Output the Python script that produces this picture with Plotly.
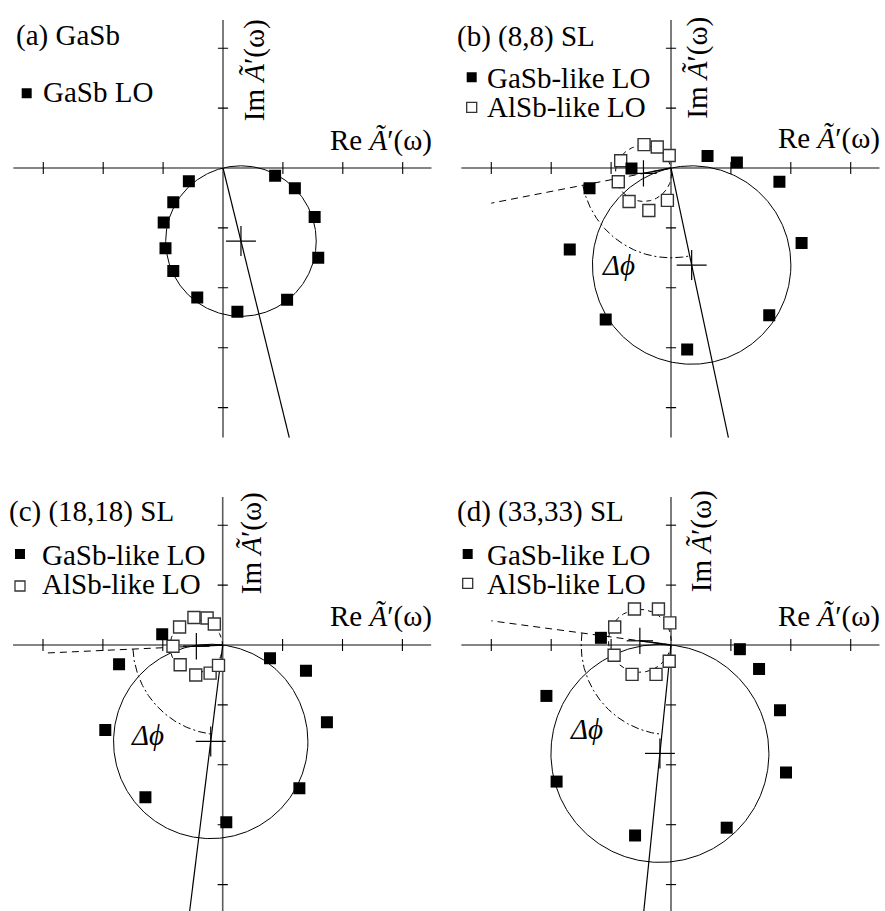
import numpy as np
import plotly.graph_objects as go

W, H = 885, 911
S = 59.9  # pixels per unit, same on every panel

# ---------------------------------------------------------------- data
panel_tags = ["(a) GaSb", "(b) (8,8) SL", "(c) (18,18) SL", "(d) (33,33) SL"]
legend_gasb = ["GaSb LO", "GaSb-like LO", "GaSb-like LO", "GaSb-like LO"]
legend_alsb = [None, "AlSb-like LO", "AlSb-like LO", "AlSb-like LO"]
x_ticks = [-3, -2, -1, 1, 2, 3]
y_ticks = [-4, -3, -2, -1, 1, 2]

# (a) GaSb
gasb_re_a = [-0.57, -0.83, -0.99, -0.96, -0.83, -0.43, 0.24, 1.07, 1.59, 1.53, 1.20, 0.87]
gasb_im_a = [-0.22, -0.57, -0.91, -1.34, -1.72, -2.16, -2.40, -2.20, -1.50, -0.82, -0.34, -0.13]
gasb_center_a = (0.30, -1.22)

# (b) (8,8) SL
gasb_re_b = [-0.66, -1.36, -1.69, -1.09, 0.27, 1.64, 2.18, 1.81, 1.10, 0.61]
gasb_im_b = [-0.01, -0.34, -1.36, -2.53, -3.03, -2.46, -1.25, -0.23, 0.09, 0.20]
alsb_re_b = [-0.03, -0.23, -0.45, -0.84, -0.88, -0.70, -0.37, -0.06]
alsb_im_b = [0.21, 0.35, 0.39, 0.12, -0.23, -0.56, -0.71, -0.54]
gasb_center_b = (0.345, -1.62)
alsb_center_b = (-0.46, -0.09)

# (c) (18,18) SL
gasb_re_c = [-1.01, -1.73, -1.96, -1.29, 0.06, 1.28, 1.74, 1.39, 0.79]
gasb_im_c = [0.18, -0.32, -1.42, -2.54, -2.96, -2.39, -1.29, -0.43, -0.22]
alsb_re_c = [-0.83, -0.72, -0.48, -0.26, -0.14, -0.71, -0.45, -0.21, -0.07]
alsb_im_c = [-0.02, 0.30, 0.46, 0.45, 0.35, -0.33, -0.50, -0.47, -0.34]
gasb_center_c = (-0.20, -1.61)
alsb_center_c = (-0.44, -0.02)

# (d) (33,33) SL
gasb_re_d = [-1.17, -2.08, -1.91, -0.60, 0.93, 1.92, 1.82, 1.47, 1.15]
gasb_im_d = [0.12, -0.85, -2.28, -3.18, -3.05, -2.13, -1.09, -0.40, -0.07]
alsb_re_d = [-0.02, -0.21, -0.61, -0.94, -0.95, -0.65, -0.25, -0.03]
alsb_im_d = [0.37, 0.60, 0.60, 0.30, -0.17, -0.49, -0.49, -0.27]
gasb_center_d = (-0.185, -1.81)
alsb_center_d = (-0.52, 0.07)

panels = [
    dict(gre=gasb_re_a, gim=gasb_im_a, gc=gasb_center_a, are=None, aim=None, ac=None),
    dict(gre=gasb_re_b, gim=gasb_im_b, gc=gasb_center_b, are=alsb_re_b, aim=alsb_im_b, ac=alsb_center_b),
    dict(gre=gasb_re_c, gim=gasb_im_c, gc=gasb_center_c, are=alsb_re_c, aim=alsb_im_c, ac=alsb_center_c),
    dict(gre=gasb_re_d, gim=gasb_im_d, gc=gasb_center_d, are=alsb_re_d, aim=alsb_im_d, ac=alsb_center_d),
]

# ---------------------------------------------------------------- layout constants (pixels)
origins = [(223, 168), (671, 168), (222.7, 645), (671, 645)]
tag_pos = [(14, 45), (455, 46), (7, 521.7), (455, 521.7)]
leg_sq = [[(26.7, 93.3)], [(471.7, 77.3), (471.7, 107.3)],
          [(20, 554), (20, 586)], [(467.7, 554), (467.7, 583.3)]]
leg_txt = [[(41, 102)], [(485, 87.3), (485, 116.7)],
           [(40, 565), (40, 594)], [(485, 565), (485, 594)]]
re_lab = [(380.5, 150), (828.5, 148.3), (380.5, 626), (828.5, 626)]
im_lab = [(264, 70), (707, 67.5), (261, 543), (711, 541)]
dphi_pos = [None, (-0.88, -1.62), (-1.26, -1.51), (-1.41, -1.40)]

FONT = "Liberation Serif, Times New Roman, serif"
FS = 29
BASE_OFF = 9.8  # baseline to text-box centre


def paper(px, py):
    return px / W, 1 - py / H


def circle(c, r, a0=0.0, a1=2 * np.pi, n=400):
    t = np.linspace(a0, a1, n)
    return c[0] + r * np.cos(t), c[1] + r * np.sin(t)


def cross(c, h):
    return ([c[0] - h, c[0] + h, None, c[0], c[0]],
            [c[1], c[1], None, c[1] - h, c[1] + h])


fig = go.Figure()
annotations = []

for i, p in enumerate(panels):
    k = "" if i == 0 else str(i + 1)
    xa, ya = "x" + k, "y" + k
    ox, oy = origins[i]
    x_lo, x_hi = -3.55, 3.55
    y_hi = 2.55
    bottom_px = min(oy + 4.55 * S, H)
    y_lo = -(bottom_px - oy) / S
    fig.layout["xaxis" + k] = dict(
        domain=[(ox + x_lo * S) / W, (ox + x_hi * S) / W], range=[x_lo, x_hi],
        visible=False, fixedrange=True)
    fig.layout["yaxis" + k] = dict(
        domain=[1 - bottom_px / H, 1 - (oy - y_hi * S) / H], range=[y_lo, y_hi],
        visible=False, fixedrange=True)

    def add(x, y, **kw):
        fig.add_trace(go.Scatter(x=x, y=y, xaxis=xa, yaxis=ya, showlegend=False,
                                 hoverinfo="skip", **kw))

    # crosshair axes with tick marks
    add([-3.5, 3.48, None, 0, 0], [0, 0, None, -4.5, 2.47], mode="lines",
        line=dict(color="#5c5c5c", width=1.6))
    tx, ty = [], []
    for t in x_ticks:
        tx += [t, t, None]
        ty += [-0.1, 0.1, None]
    for t in y_ticks:
        tx += [-0.085, 0.085, None]
        ty += [t, t, None]
    add(tx, ty, mode="lines", line=dict(color="black", width=1.1))

    gc = np.array(p["gc"])
    gr = float(np.hypot(*gc))
    # GaSb-like circle, centre cross, phase line
    cx, cy = circle(gc, gr)
    add(cx, cy, mode="lines", line=dict(color="black", width=1))
    sx, sy = cross(gc, 0.25)
    add(sx, sy, mode="lines", line=dict(color="black", width=1.2))
    end = gc * (-4.5 / gc[1])
    add([0, end[0]], [0, end[1]], mode="lines", line=dict(color="black", width=1.2))

    if p["ac"] is not None:
        ac = np.array(p["ac"])
        ar = float(np.hypot(*ac))
        cx, cy = circle(ac, ar)
        add(cx, cy, mode="lines", line=dict(color="black", width=1, dash="5px,4px"))
        sx, sy = cross(ac, 0.22)
        add(sx, sy, mode="lines", line=dict(color="black", width=1.2))
        add([0, ac[0]], [0, ac[1]], mode="lines", line=dict(color="black", width=1.4))
        far = ac * (-3.0 / ac[0])
        add([0, far[0]], [0, far[1]], mode="lines",
            line=dict(color="black", width=1, dash="7px,5px"))
        # phase difference arc
        a0 = np.arctan2(ac[1], ac[0]) % (2 * np.pi)
        a1 = np.arctan2(gc[1], gc[0]) % (2 * np.pi)
        cx, cy = circle((0, 0), 1.5, a0, a1, 200)
        add(cx, cy, mode="lines", line=dict(color="black", width=1, dash="8px,3px,2px,3px"))
        annotations.append(dict(x=dphi_pos[i][0], y=dphi_pos[i][1], xref=xa, yref=ya,
                                text="<i>Δϕ</i>", showarrow=False,
                                xanchor="center", yanchor="middle",
                                font=dict(family=FONT, size=FS, color="black")))
        add(p["are"], p["aim"], mode="markers",
            marker=dict(symbol="square", size=12, color="white",
                        line=dict(color="#333333", width=1.4)))

    add(p["gre"], p["gim"], mode="markers",
        marker=dict(symbol="square", size=12, color="black", line=dict(width=0)))

    # legend swatches
    for j, (lx, ly) in enumerate(leg_sq[i]):
        dx, dy = (lx - ox) / S, (oy - ly) / S
        if j == 0:
            mk = dict(symbol="square", size=10, color="black", line=dict(width=0))
        else:
            mk = dict(symbol="square", size=10, color="white",
                      line=dict(color="#333333", width=1.3))
        add([dx], [dy], mode="markers", marker=mk)

    # texts
    def note(px, py, text, xanchor="center", **kw):
        x, y = paper(px, py)
        d = dict(x=x, y=y, xref="paper", yref="paper", text=text, showarrow=False,
                 xanchor=xanchor, yanchor="middle",
                 font=dict(family=FONT, size=FS, color="black"))
        d.update(kw)
        annotations.append(d)

    note(tag_pos[i][0], tag_pos[i][1] - BASE_OFF, panel_tags[i], xanchor="left")
    labels = [legend_gasb[i]] + ([legend_alsb[i]] if legend_alsb[i] else [])
    for (lx, ly), lab in zip(leg_txt[i], labels):
        note(lx, ly - BASE_OFF, lab, xanchor="left")
    note(re_lab[i][0], re_lab[i][1] - BASE_OFF, "Re <i>Ã</i>′(ω)")
    note(im_lab[i][0] - BASE_OFF, im_lab[i][1], "Im <i>Ã</i>′(ω)", textangle=-90)

fig.update_layout(width=W, height=H, margin=dict(l=0, r=0, t=0, b=0),
                  paper_bgcolor="white", plot_bgcolor="rgba(0,0,0,0)",
                  annotations=annotations, showlegend=False)
fig.write_html("out.html")
